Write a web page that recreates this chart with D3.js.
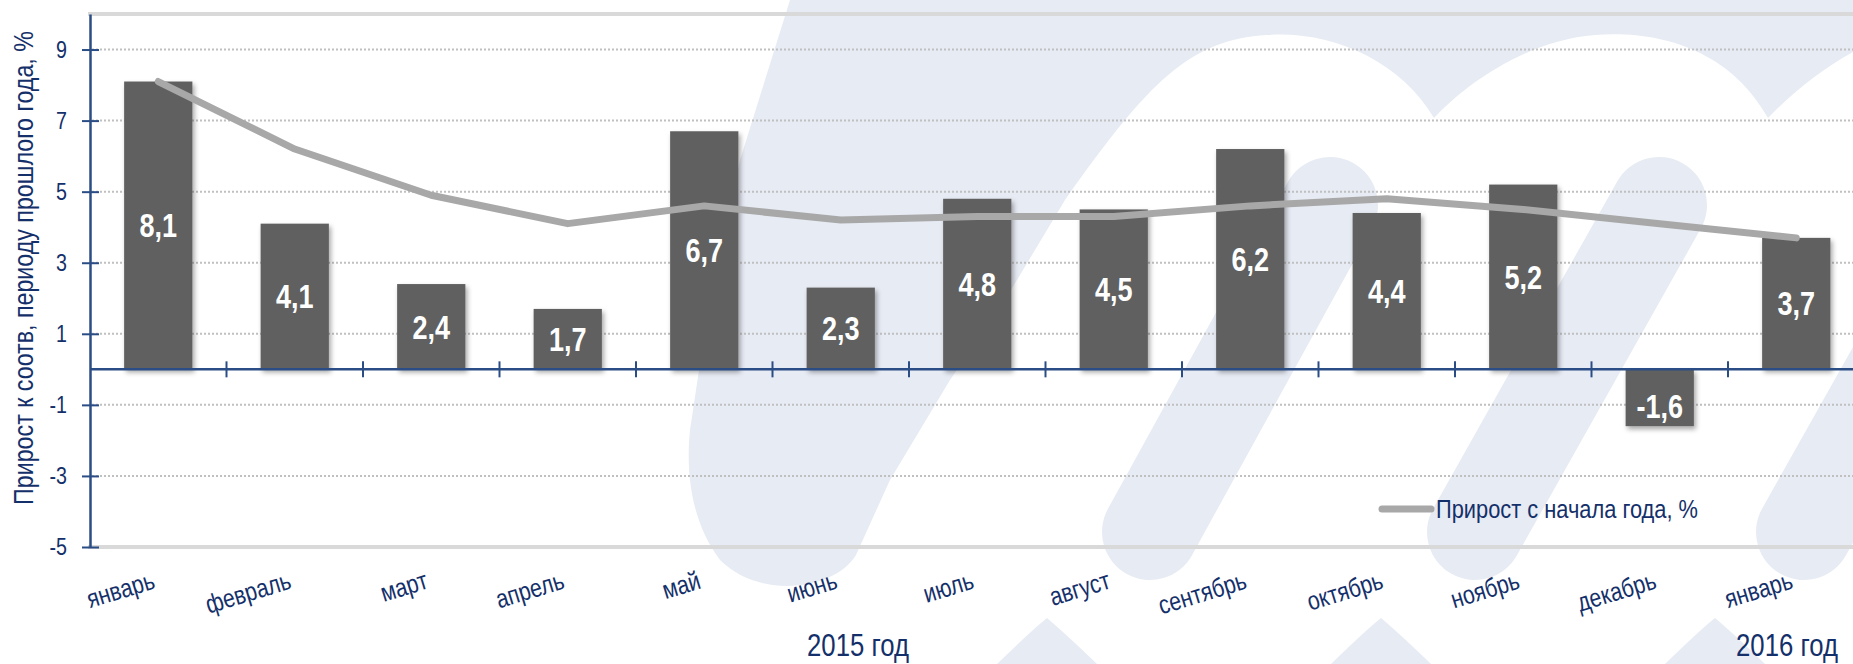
<!DOCTYPE html>
<html>
<head>
<meta charset="utf-8">
<script src="https://cdn.jsdelivr.net/npm/d3@7"></script>
<style>
  body { margin: 0; background: #fff; }
  svg { display: block; font-family: "Liberation Sans", Arial, sans-serif; }
</style>
</head>
<body>
<svg width="1853" height="664"></svg>
<script>
// monthly growth vs same period last year, and cumulative growth since start of year
var months = ["январь", "февраль", "март", "апрель", "май", "июнь", "июль",
  "август", "сентябрь", "октябрь", "ноябрь", "декабрь", "январь"];
var barValues = [8.1, 4.1, 2.4, 1.7, 6.7, 2.3, 4.8, 4.5, 6.2, 4.4, 5.2, -1.6, 3.7];
var lineValues = [8.1, 6.2, 4.9, 4.1, 4.6, 4.2, 4.3, 4.3, 4.6, 4.8, 4.5, 4.1, 3.7];
var yTicks = [9, 7, 5, 3, 1, -1, -3, -5];
var yearLabels = ["2015 год", "2016 год"];
var yTitle = "Прирост к соотв, периоду прошлого года, %";
var legendLabel = "Прирост с начала года, %";

var navy = "#14306a", axisBlue = "#2a4d85", barGray = "#616161", lineGray = "#a8a8a8";
var narrow = " scale(0.82,1)"; // no Arial Narrow here, so squeeze the regular face

var svg = d3.select("svg");

var x = d3.scaleBand()
  .domain(d3.range(months.length))
  .range([90, 90 + 13 * 136.5])
  .paddingInner(0.5)
  .paddingOuter(0.25);

var y = d3.scaleLinear().domain([-5, 10]).range([547, 14]);

var cx = function(i) { return x(i) + x.bandwidth() / 2; };
var fmt = function(v) { return d3.format(".1f")(v).replace(".", ",").replace("−", "-"); };
var at = function(px, py) { return "translate(" + px + "," + py + ")"; };

// drop shadow for bars
var defs = svg.append("defs");
defs.append("filter").attr("id", "shadow")
  .attr("x", "-20%").attr("y", "-20%").attr("width", "150%").attr("height", "150%")
  .append("feDropShadow")
  .attr("dx", 2).attr("dy", 3).attr("stdDeviation", 2.5)
  .attr("flood-color", "#000").attr("flood-opacity", 0.35);

// background watermark (logo)
var wm = svg.append("g").attr("fill", "#e7ebf4");
wm.append("path").attr("d",
  "M790,0 L1853,0 L1853,52 C1820,70 1790,95 1768,118 C1730,50 1660,30 1595,35 " +
  "C1530,40 1470,80 1434,118 C1400,60 1330,30 1267,35 C1190,40 1150,80 1065,200 " +
  "L1005,300 L950,380 L890,480 L856,555 C835,590 760,600 720,560 " +
  "C690,520 686,470 690,430 L705,330 L740,160 Z");
wm.selectAll("line.stroke")
  .data([[1330, 205, 1150, 532], [1659, 205, 1475, 532], [1988, 205, 1804, 532]])
  .enter().append("line")
  .attr("x1", function(d) { return d[0]; }).attr("y1", function(d) { return d[1]; })
  .attr("x2", function(d) { return d[2]; }).attr("y2", function(d) { return d[3]; })
  .attr("stroke", "#e7ebf4").attr("stroke-width", 96).attr("stroke-linecap", "round");
wm.selectAll("path.peak")
  .data([1047, 1381, 1715])
  .enter().append("path")
  .attr("d", function(p) { return "M" + (p - 50) + ",664 Q" + (p - 15) + ",630 " + p + ",618 Q" + (p + 20) + ",635 " + (p + 50) + ",664 Z"; });

// plot frame (top and bottom)
svg.selectAll("line.frame")
  .data([10, -5])
  .enter().append("line")
  .attr("x1", 88).attr("x2", 1853)
  .attr("y1", function(d) { return y(d); }).attr("y2", function(d) { return y(d); })
  .attr("stroke", "#d9d9d9").attr("stroke-width", 4);

// dotted gridlines
svg.selectAll("line.grid")
  .data(yTicks.filter(function(d) { return d !== -5; }))
  .enter().append("line")
  .attr("x1", 92).attr("x2", 1853)
  .attr("y1", function(d) { return y(d); }).attr("y2", function(d) { return y(d); })
  .attr("stroke", "#c0c0c0").attr("stroke-width", 2).attr("stroke-dasharray", "2,2");

// bars
svg.selectAll("rect.bar")
  .data(barValues)
  .enter().append("rect")
  .attr("x", function(d, i) { return x(i); })
  .attr("width", x.bandwidth())
  .attr("y", function(d) { return y(Math.max(0, d)); })
  .attr("height", function(d) { return Math.abs(y(d) - y(0)); })
  .attr("fill", barGray)
  .attr("filter", "url(#shadow)");

// zero line with category ticks
svg.append("line")
  .attr("x1", 90).attr("x2", 1853).attr("y1", y(0)).attr("y2", y(0))
  .attr("stroke", axisBlue).attr("stroke-width", 2.5);
svg.selectAll("line.cat")
  .data(d3.range(months.length))
  .enter().append("line")
  .attr("x1", function(i) { return cx(i) + x.step() / 2; })
  .attr("x2", function(i) { return cx(i) + x.step() / 2; })
  .attr("y1", y(0) - 8).attr("y2", y(0) + 8)
  .attr("stroke", axisBlue).attr("stroke-width", 2);

// left axis
var yAxis = svg.append("g")
  .attr("transform", at(90, 0))
  .call(d3.axisLeft(y).tickValues(yTicks).tickSizeOuter(0).tickSizeInner(8)
    .tickFormat(function(d) { return String(d); }));
yAxis.select(".domain").attr("stroke", axisBlue).attr("stroke-width", 2.5);
yAxis.selectAll(".tick line").attr("x2", 9).attr("x1", -8).attr("stroke", axisBlue).attr("stroke-width", 2);
yAxis.selectAll(".tick text")
  .attr("x", null)
  .attr("transform", at(-23, 0) + narrow)
  .attr("fill", navy).attr("font-size", 24)
  .attr("font-family", "\"Liberation Sans\", Arial, sans-serif");

// cumulative line
var line = d3.line()
  .x(function(d, i) { return cx(i); })
  .y(function(d) { return y(d); });
svg.append("path")
  .datum(lineValues)
  .attr("d", line)
  .attr("fill", "none")
  .attr("stroke", lineGray).attr("stroke-width", 7)
  .attr("stroke-linecap", "round").attr("stroke-linejoin", "round");

// bar value labels
svg.selectAll("text.val")
  .data(barValues)
  .enter().append("text")
  .attr("transform", function(d, i) { return at(cx(i), (y(d) + y(0)) / 2 + (d < 0 ? 8 : 0)) + narrow; })
  .attr("dy", "0.36em")
  .attr("text-anchor", "middle")
  .attr("fill", "#fff").attr("font-weight", "bold").attr("font-size", 33)
  .text(fmt);

// month labels
svg.selectAll("text.month")
  .data(months)
  .enter().append("text")
  .attr("transform", function(d, i) { return at(cx(i) - 2, 588) + " rotate(-17)" + narrow; })
  .attr("text-anchor", "end")
  .attr("fill", navy).attr("font-size", 26)
  .text(function(d) { return d; });

// year labels
svg.selectAll("text.year")
  .data(yearLabels)
  .enter().append("text")
  .attr("transform", function(d, i) { return at(i === 0 ? 858 : 1787, 656) + " scale(0.83,1)"; })
  .attr("text-anchor", "middle")
  .attr("fill", navy).attr("font-size", 31)
  .text(function(d) { return d; });

// y axis title
svg.append("text")
  .attr("transform", at(23, 268) + " rotate(-90) scale(0.83,1)")
  .attr("dy", "0.35em")
  .attr("text-anchor", "middle")
  .attr("fill", navy).attr("font-size", 28)
  .text(yTitle);

// legend
svg.append("line")
  .attr("x1", 1382).attr("x2", 1431).attr("y1", 509).attr("y2", 509)
  .attr("stroke", lineGray).attr("stroke-width", 7).attr("stroke-linecap", "round");
svg.append("text")
  .attr("transform", at(1436, 509) + " scale(0.84,1)")
  .attr("dy", "0.35em")
  .attr("fill", navy).attr("font-size", 26)
  .text(legendLabel);
</script>
</body>
</html>
